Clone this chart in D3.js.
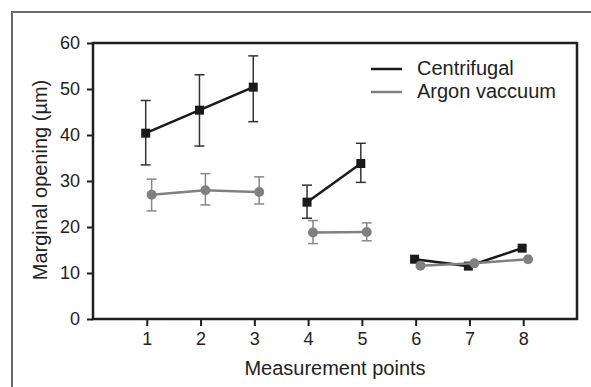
<!DOCTYPE html>
<html lang="en">
<head>
<meta charset="UTF-8">
<title>Marginal opening</title>
<style>
  body { margin: 0; background: #fff; }
  text { font-family: "Liberation Sans", Arial, sans-serif; fill: #222; }
</style>
</head>
<body>
<script src="https://d3js.org/d3.v7.min.js"></script>
<script>
  // measurement points, split in three groups (lines are not joined between groups)
  const points = [1, 2, 3, 4, 5, 6, 7, 8]
  const groups = [[1, 2, 3], [4, 5], [6, 7, 8]]

  const centrifugal = [40.4, 45.4, 50.4, 25.4, 33.8, 13.0, 11.5, 15.4]
  const centrifugalHi = [47.5, 53.1, 57.2, 29.1, 38.2, null, null, null]
  const centrifugalLo = [33.5, 37.6, 42.9, 21.9, 29.7, null, null, null]

  const argon = [27.0, 28.0, 27.6, 18.8, 18.9, 11.6, 12.1, 13.0]
  const argonHi = [30.4, 31.6, 30.9, 21.4, 20.9, null, null, null]
  const argonLo = [23.5, 24.8, 25.0, 16.4, 17.0, null, null, null]

  const yTicks = [0, 10, 20, 30, 40, 50, 60]
  const seriesNames = ['Centrifugal', 'Argon vaccuum']

  const width = 591
  const height = 387
  const margin = { top: 43, right: 14, bottom: 68, left: 93 }

  const svg = d3.select('body').append('svg')
    .attr('width', width)
    .attr('height', height)

  // outer frame (only top and left visible)
  svg.append('path')
    .attr('d', `M12,${height} L12,12 L${width},12`)
    .attr('fill', 'none')
    .attr('stroke', '#6b6b6b')
    .attr('stroke-width', 2)

  const x = d3.scaleLinear().domain([0, 9]).range([margin.left, width - margin.right])
  const y = d3.scaleLinear().domain([0, 60]).range([height - margin.bottom, margin.top])

  // plot frame
  svg.append('rect')
    .attr('x', x(0)).attr('y', y(60))
    .attr('width', x(9) - x(0)).attr('height', y(0) - y(60))
    .attr('fill', 'none')
    .attr('stroke', '#1e1e1e')
    .attr('stroke-width', 2.5)

  const tickFont = '"Liberation Sans", Arial, sans-serif'

  const yAxis = svg.append('g')
    .attr('transform', `translate(${x(0)},0)`)
    .call(d3.axisLeft(y).tickValues(yTicks).tickSize(6).tickPadding(7))
  yAxis.select('.domain').remove()
  yAxis.selectAll('line').attr('stroke', '#1e1e1e').attr('stroke-width', 2)
  yAxis.selectAll('text').style('font-size', '18px').style('font-family', tickFont).attr('fill', '#222')

  const xAxis = svg.append('g')
    .attr('transform', `translate(0,${y(0)})`)
    .call(d3.axisBottom(x).tickValues(points).tickSize(7).tickPadding(6))
  xAxis.select('.domain').remove()
  xAxis.selectAll('line').attr('stroke', '#1e1e1e').attr('stroke-width', 2)
  xAxis.selectAll('text').style('font-size', '18px').style('font-family', tickFont).attr('fill', '#222')

  svg.append('text')
    .attr('x', (x(0) + x(9)) / 2)
    .attr('y', 375)
    .attr('text-anchor', 'middle')
    .style('font-size', '20px')
    .text('Measurement points')

  svg.append('text')
    .attr('transform', 'translate(47,180) rotate(-90)')
    .attr('text-anchor', 'middle')
    .style('font-size', '20px')
    .text('Marginal opening (µm)')

  const series = [
    { vals: centrifugal, hi: centrifugalHi, lo: centrifugalLo, color: '#1a1a1a', bar: '#333', shift: -0.02, shape: 'square' },
    { vals: argon, hi: argonHi, lo: argonLo, color: '#808080', bar: '#888', shift: 0.09, shape: 'circle' }
  ]

  const line = d3.line().x(d => d[0]).y(d => d[1])

  series.forEach(s => {
    const g = svg.append('g')
    // error bars
    points.forEach((p, i) => {
      if (s.hi[i] == null) return
      const cx = x(p + s.shift)
      g.append('line').attr('x1', cx).attr('x2', cx).attr('y1', y(s.hi[i])).attr('y2', y(s.lo[i]))
        .attr('stroke', s.bar).attr('stroke-width', 1.5)
      ;[s.hi[i], s.lo[i]].forEach(v => {
        g.append('line').attr('x1', cx - 5).attr('x2', cx + 5).attr('y1', y(v)).attr('y2', y(v))
          .attr('stroke', s.bar).attr('stroke-width', 1.5)
      })
    })
    // lines per group
    groups.forEach(gr => {
      g.append('path')
        .attr('d', line(gr.map(p => [x(p + s.shift), y(s.vals[p - 1])])))
        .attr('fill', 'none')
        .attr('stroke', s.color)
        .attr('stroke-width', 2.5)
    })
    // markers
    points.forEach((p, i) => {
      const cx = x(p + s.shift), cy = y(s.vals[i])
      if (s.shape === 'square') {
        g.append('rect').attr('x', cx - 4.5).attr('y', cy - 4.5).attr('width', 9).attr('height', 9).attr('fill', s.color)
      } else {
        g.append('circle').attr('cx', cx).attr('cy', cy).attr('r', 5).attr('fill', s.color)
      }
    })
  })

  // legend
  const legend = svg.append('g')
  seriesNames.forEach((name, i) => {
    const ly = 69 + i * 23
    legend.append('line').attr('x1', 371).attr('x2', 402).attr('y1', ly).attr('y2', ly)
      .attr('stroke', series[i].color).attr('stroke-width', 2.5)
    legend.append('text').attr('x', 417).attr('y', ly + 5.5)
      .style('font-size', '20px')
      .text(name)
  })
</script>
</body>
</html>
